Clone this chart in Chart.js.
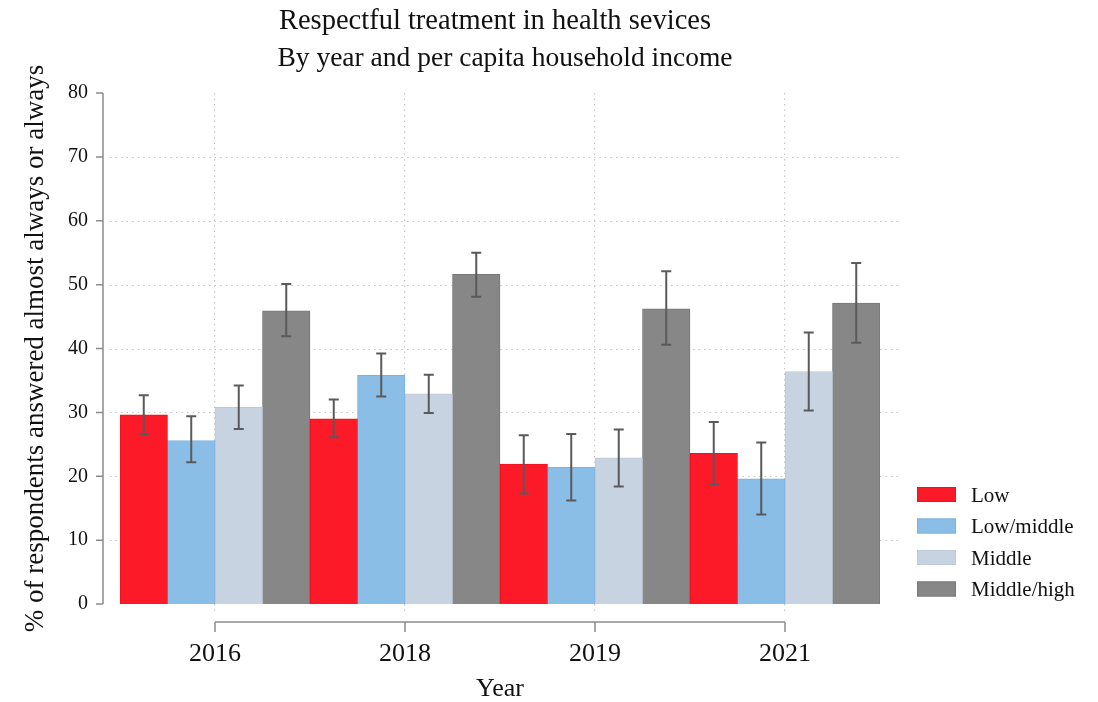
<!DOCTYPE html>
<html>
<head>
<meta charset="utf-8">
<script src="https://cdn.jsdelivr.net/npm/chart.js@4.4.0/dist/chart.umd.min.js"></script>
<style>
html, body { margin: 0; background: #fff; }
</style>
</head>
<body>
<canvas id="chart" width="1098" height="702"></canvas>
<script>
const years = ['2016', '2018', '2019', '2021'];
const groups = ['Low', 'Low/middle', 'Middle', 'Middle/high'];

const low = [29.6, 29.0, 21.9, 23.6];
const lowMiddle = [25.6, 35.8, 21.4, 19.6];
const middle = [30.8, 32.9, 22.9, 36.4];
const middleHigh = [45.9, 51.6, 46.2, 47.1];

// confidence intervals (lower / upper)
const lowCI = [[26.6, 26.1, 17.3, 18.7], [32.7, 32.0, 26.4, 28.5]];
const lowMiddleCI = [[22.2, 32.5, 16.2, 14.0], [29.4, 39.2, 26.6, 25.3]];
const middleCI = [[27.4, 29.9, 18.4, 30.3], [34.2, 35.9, 27.3, 42.5]];
const middleHighCI = [[41.9, 48.1, 40.6, 40.9], [50.1, 55.0, 52.1, 53.4]];

const yTicks = [0, 10, 20, 30, 40, 50, 60, 70, 80];

const title = 'Respectful treatment in health sevices';
const subtitle = 'By year and per capita household income';

const fill = ['#fc1a29', '#8abee6', '#c7d3e0', '#878787'];
const edge = ['#f0101e', '#7db2de', '#bcc9d8', '#777777'];
const serif = '"Liberation Serif", "DejaVu Serif", serif';

const series = [low, lowMiddle, middle, middleHigh];
const intervals = [lowCI, lowMiddleCI, middleCI, middleHighCI];

const extras = {
  id: 'extras',
  beforeDatasetsDraw(chart) {
    const {ctx, chartArea, scales} = chart;
    const y = scales.y;
    ctx.save();
    // horizontal dotted grid
    ctx.strokeStyle = '#c8c8c8';
    ctx.lineWidth = 1.2;
    ctx.setLineDash([1.5, 4]);
    yTicks.slice(1, -1).forEach(v => {
      const py = Math.round(y.getPixelForValue(v)) + 0.5;
      ctx.beginPath();
      ctx.moveTo(chartArea.left - 10, py);
      ctx.lineTo(chartArea.right + 20, py);
      ctx.stroke();
    });
    ctx.restore();
  },
  afterDatasetsDraw(chart) {
    const {ctx, chartArea, scales} = chart;
    const x = scales.x, y = scales.y;
    ctx.save();
    // error bars
    ctx.strokeStyle = '#5a5a5a';
    ctx.lineWidth = 2;
    chart.data.datasets.forEach((ds, i) => {
      const meta = chart.getDatasetMeta(i);
      const ci = intervals[i];
      meta.data.forEach((bar, j) => {
        const top = y.getPixelForValue(ci[1][j]);
        const bot = y.getPixelForValue(ci[0][j]);
        ctx.beginPath();
        ctx.moveTo(bar.x, top); ctx.lineTo(bar.x, bot);
        ctx.moveTo(bar.x - 5, top); ctx.lineTo(bar.x + 5, top);
        ctx.moveTo(bar.x - 5, bot); ctx.lineTo(bar.x + 5, bot);
        ctx.stroke();
      });
    });

    // y axis line and ticks
    ctx.strokeStyle = '#8c8c8c';
    ctx.lineWidth = 1.5;
    const ax = chartArea.left - 17;
    ctx.beginPath();
    ctx.moveTo(ax, y.getPixelForValue(yTicks[yTicks.length - 1]));
    ctx.lineTo(ax, y.getPixelForValue(yTicks[0]));
    yTicks.forEach(v => {
      const py = y.getPixelForValue(v);
      ctx.moveTo(ax - 7, py); ctx.lineTo(ax, py);
    });
    ctx.stroke();

    // x axis line between first and last tick
    const ay = chartArea.bottom + 18;
    const x0 = x.getPixelForTick(0), x1 = x.getPixelForTick(years.length - 1);
    ctx.beginPath();
    ctx.moveTo(x0, ay); ctx.lineTo(x1, ay);
    years.forEach((_, i) => {
      const px = x.getPixelForTick(i);
      ctx.moveTo(px, ay); ctx.lineTo(px, ay + 10);
    });
    ctx.stroke();

    // titles
    const cx = (chartArea.left + chartArea.right) / 2;
    ctx.fillStyle = '#111';
    ctx.textAlign = 'center';
    ctx.textBaseline = 'alphabetic';
    ctx.font = '28.5px ' + serif;
    ctx.fillText(title, cx - 5, 29);
    ctx.font = '27.5px ' + serif;
    ctx.fillText(subtitle, cx + 5, 66);

    // legend
    const lx = chartArea.right + 37;
    ctx.textAlign = 'left';
    ctx.textBaseline = 'middle';
    ctx.font = '21px ' + serif;
    groups.forEach((g, i) => {
      const ly = chartArea.bottom - 117 + i * 31.5;
      ctx.fillStyle = fill[i];
      ctx.fillRect(lx, ly, 39, 15);
      ctx.strokeStyle = edge[i];
      ctx.lineWidth = 1;
      ctx.strokeRect(lx + 0.5, ly + 0.5, 38, 14);
      ctx.fillStyle = '#111';
      ctx.fillText(g, lx + 54, ly + 9);
    });
    ctx.restore();
  }
};

new Chart(document.getElementById('chart'), {
  type: 'bar',
  data: {
    labels: years,
    datasets: groups.map((g, i) => ({
      label: g,
      data: series[i],
      backgroundColor: fill[i],
      borderColor: edge[i],
      borderWidth: 1,
      categoryPercentage: 1,
      barPercentage: 1
    }))
  },
  options: {
    responsive: false,
    animation: false,
    layout: {padding: {top: 93, right: 218, left: 0, bottom: 0}},
    plugins: {
      legend: {display: false},
      title: {display: false},
      tooltip: {enabled: false}
    },
    scales: {
      x: {
        offset: true,
        afterFit(scale) { scale.height = 98; },
        grid: {
          offset: false,
          color: '#c8c8c8',
          lineWidth: 1.2,
          drawTicks: true,
          tickLength: 8,
          tickColor: '#c8c8c8',
          tickBorderDash: [1.5, 4]
        },
        border: {display: false, dash: [1.5, 4]},
        ticks: {padding: 27, color: '#111', font: {family: serif, size: 26}},
        title: {display: true, text: 'Year', color: '#111', font: {family: serif, size: 26, lineHeight: 1}, padding: {bottom: 0, top: 0}}
      },
      y: {
        min: 0,
        max: 80,
        afterFit(scale) { scale.width = 120; },
        afterBuildTicks(scale) { scale.ticks = yTicks.map(v => ({value: v})); },
        grid: {display: false},
        border: {display: false},
        ticks: {padding: 24, color: '#111', font: {family: serif, size: 20}},
        title: {display: true, text: '% of respondents answered almost always or always', color: '#111', font: {family: serif, size: 27}, padding: {top: 20}}
      }
    }
  },
  plugins: [extras]
});
</script>
</body>
</html>
